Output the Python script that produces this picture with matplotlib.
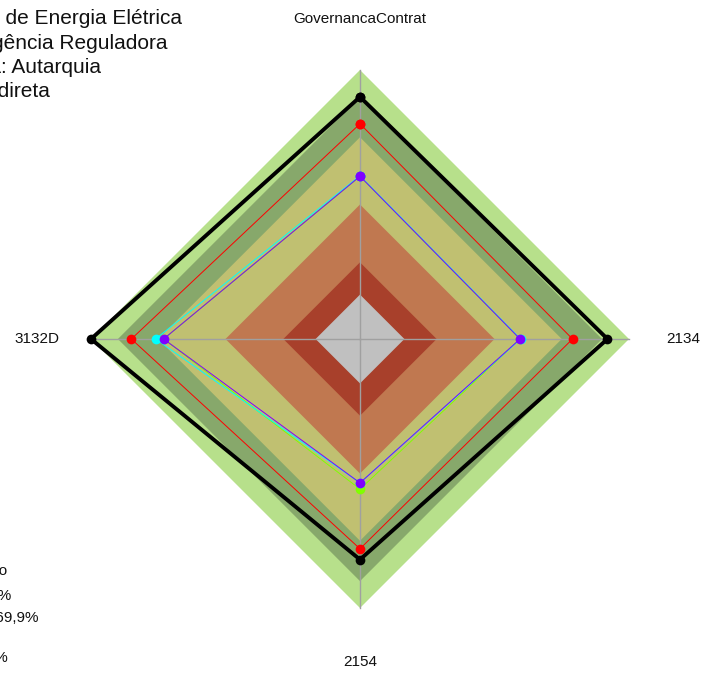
import numpy as np
import matplotlib
matplotlib.use("Agg")
import matplotlib.pyplot as plt

plt.rcParams['font.family'] = ['Liberation Sans', 'DejaVu Sans']

# Radar axes (clockwise from the top)
axis_labels = ["GovernancaContrat", "2134", "2154", "3132D"]

# Background reference bands (fraction of the maximum score), outermost first
band_levels = [1.00, 0.90, 0.75, 0.50, 0.285, 0.165]
band_colors = ["#b7e08b", "#87a86b", "#c0c071", "#c07850", "#a8402b", "#c0c0c0"]

# Scores per axis for each series
values_black = [0.90, 0.92, 0.82, 1.00]
values_red = [0.80, 0.79, 0.78, 0.85]
values_lime = [0.605, 0.595, 0.558, 0.73]
values_cyan = [0.607, 0.597, 0.535, 0.76]
values_purple = [0.605, 0.595, 0.535, 0.73]

title_lines = [
    "Agência Nacional de Energia Elétrica",
    "Tipo: Agência Reguladora",
    "Natureza Jurídica: Autarquia",
    "Administração Indireta",
]
legend_lines = [
    "Nível de Pontuação",
    "Inexpressivo: 0 a 14,9%",
    "Iniciando: 15 a 69,9%",
    "Intermediário: 40 a 69,9%",
    "Aprimorado: 70 a 100%",
]

W, H = 702, 673
fig = plt.figure(figsize=(W / 100, H / 100), dpi=100)
ax = fig.add_axes([91 / W, 65 / H, 538 / W, 538 / H], projection="polar")
ax.set_theta_offset(np.pi / 2)
ax.set_theta_direction(-1)
ax.set_ylim(0, 1)
ax.axis("off")

n = len(axis_labels)
theta = np.arange(n) * 2 * np.pi / n
theta_c = np.append(theta, theta[0])


def closed(vals):
    return np.append(vals, vals[0])


# Reference bands
for lvl, col in zip(band_levels, band_colors):
    ax.fill(theta_c, [lvl] * (n + 1), color=col, lw=0, clip_on=False, zorder=1)

# Spokes
for t in theta:
    ax.plot([t, t], [0, 1], color="#a0a0a0", lw=1.0, zorder=2, clip_on=False)

# Series (later ones on top)
series = [
    (values_black, "#000000", 2.8),
    (values_red, "#ff0000", 0.7),
    (values_lime, "#80ff00", 0.7),
    (values_cyan, "#00ffff", 0.7),
    (values_purple, "#8000ff", 0.7),
]
for i, (vals, col, lw) in enumerate(series):
    ax.plot(theta_c, closed(vals), color=col, lw=lw, marker="o", markersize=7,
            markeredgewidth=0, zorder=3 + i, clip_on=False)

# Axis labels
label_r = [1.19, 1.2, 1.2, 1.2]
for t, lab, r in zip(theta, axis_labels, label_r):
    ax.text(t, r, lab, ha="center", va="center", fontsize=11, color="#111111")

# Header block
title_right = [182, 168, 101, 50]
title_base = [24, 49, 73, 97]
for s, xr, yb in zip(title_lines, title_right, title_base):
    fig.text(xr / W, 1 - yb / H, s, ha="right", va="baseline", fontsize=15,
             color="#111111")

# Score-range legend
legend_right = [7, 11, 38, -4, 8]
legend_base = [575, 600, 622, 642, 662]
for s, xr, yb in zip(legend_lines, legend_right, legend_base):
    fig.text(xr / W, 1 - yb / H, s, ha="right", va="baseline", fontsize=11,
             color="#111111")

fig.savefig("out.png", dpi=100, facecolor="white")
